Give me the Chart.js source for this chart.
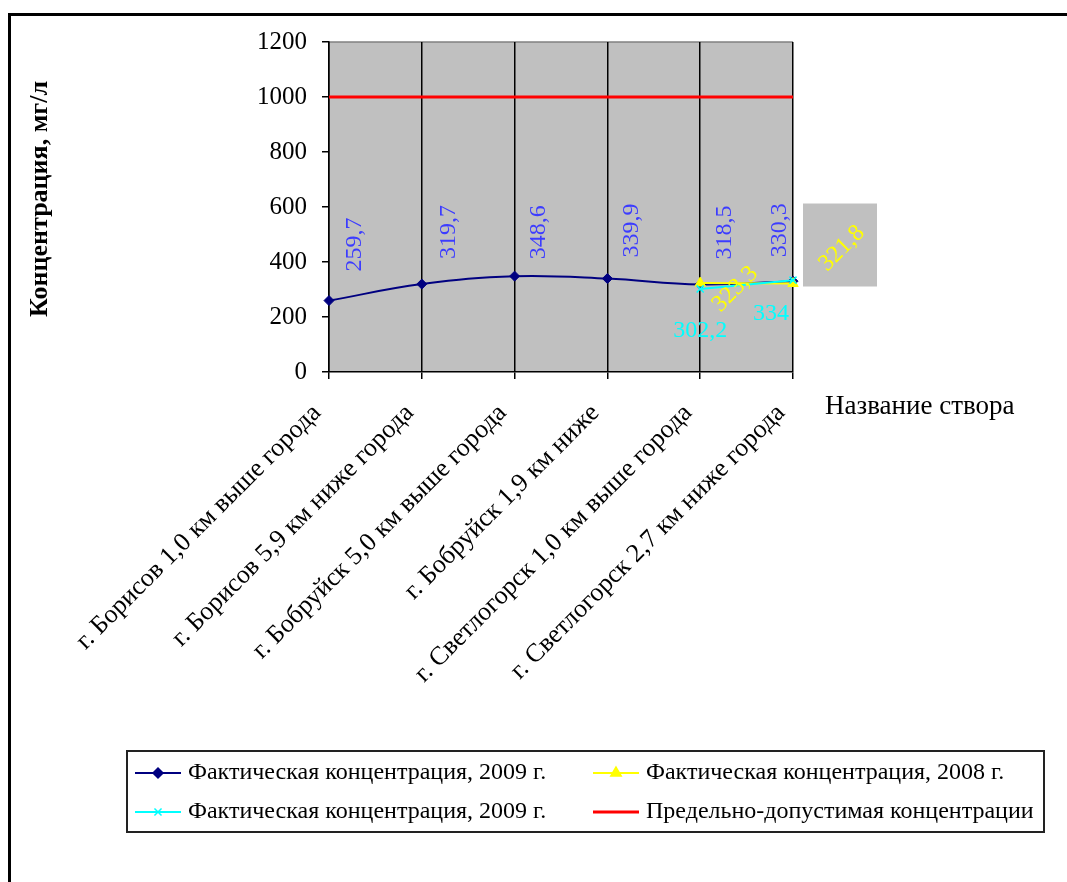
<!DOCTYPE html>
<html>
<head>
<meta charset="utf-8">
<script src="https://cdn.jsdelivr.net/npm/chart.js@4.4.1/dist/chart.umd.min.js"></script>
<style>
  html, body { margin: 0; padding: 0; background: #fff; overflow: hidden; width: 1067px; height: 882px; }
  #frame { position: absolute; left: 8px; top: 13px; width: 1200px; height: 1000px; border: 3px solid #000; box-sizing: border-box; }
  #c { position: absolute; left: 0; top: 0; }
</style>
</head>
<body>
<div id="frame"></div>
<canvas id="c" width="1067" height="882"></canvas>
<script>
// Monitoring sections along the river
const categories = [
  'г. Борисов 1,0 км выше города',
  'г. Борисов 5,9 км ниже города',
  'г. Бобруйск 5,0 км выше города',
  'г. Бобруйск 1,9 км ниже',
  'г. Светлогорск 1,0 км выше города',
  'г. Светлогорск 2,7 км ниже города'
];

// Concentrations, mg/l
const fact2009 = [259.7, 319.7, 348.6, 339.9, 318.5, 330.3];
const fact2008 = [null, null, null, null, 323.3, 321.8];
const fact2009b = [null, null, null, null, 302.2, 334];
const limitValue = [1000, 1000, 1000, 1000, 1000, 1000];

const yTicks = [0, 200, 400, 600, 800, 1000, 1200];

const seriesNames = [
  'Фактическая концентрация, 2009 г.',
  'Фактическая концентрация, 2008 г.',
  'Фактическая концентрация, 2009 г.',
  'Предельно-допустимая концентрации'
];
const yTitle = 'Концентрация, мг/л';
const xTitle = 'Название створа';

const SERIF = "'Liberation Serif', 'Times New Roman', serif";
Chart.defaults.font.family = SERIF;
Chart.defaults.color = '#000';

// Value-label placement (pixel shift of the label centre from its point)
const labelPlacement = {
  0: { color: '#3c3cff', rot: -90, shift: [[26, -56], [27, -52], [24, -44], [24, -48], [25, -52], [-13, -51]] },
  1: { color: '#ffff00', rot: -45, shift: [null, null, null, null, [35, 6], [49, -35]], boxed: [false, false, false, false, false, true] },
  2: { color: '#00ffff', rot: 0, shift: [null, null, null, null, [0, 42], [-22, 34]] }
};

const fmt = v => String(v).replace('.', ',');

const plotBackground = {
  id: 'plotBackground',
  beforeDraw(chart) {
    const { ctx, chartArea: a } = chart;
    ctx.save();
    ctx.fillStyle = '#c0c0c0';
    ctx.fillRect(a.left, a.top, a.right - a.left, a.bottom - a.top);
    ctx.strokeStyle = '#808080';
    ctx.lineWidth = 1.5;
    ctx.beginPath();
    ctx.moveTo(a.left, a.top);
    ctx.lineTo(a.right, a.top);
    ctx.stroke();
    ctx.restore();
  }
};

const valueLabels = {
  id: 'valueLabels',
  afterDatasetsDraw(chart) {
    const { ctx } = chart;
    ctx.save();
    ctx.font = '24px ' + SERIF;
    ctx.textAlign = 'center';
    ctx.textBaseline = 'middle';
    Object.keys(labelPlacement).forEach(key => {
      const di = +key;
      const cfg = labelPlacement[di];
      const meta = chart.getDatasetMeta(di);
      const data = chart.data.datasets[di].data;
      meta.data.forEach((pt, i) => {
        const v = data[i];
        const s = cfg.shift[i];
        if (v == null || !s) return;
        const cx = pt.x + s[0];
        const cy = pt.y + s[1];
        if (cfg.boxed && cfg.boxed[i]) {
          ctx.fillStyle = '#c0c0c0';
          ctx.fillRect(cx - 39, cy - 45, 74, 83);
        }
        ctx.save();
        ctx.translate(cx, cy);
        ctx.rotate(cfg.rot * Math.PI / 180);
        ctx.fillStyle = cfg.color;
        ctx.fillText(fmt(v), 0, 0);
        ctx.restore();
      });
    });
    ctx.restore();
  }
};

const titlesAndLegend = {
  id: 'titlesAndLegend',
  afterDraw(chart) {
    const { ctx } = chart;
    const ds = chart.data.datasets;
    ctx.save();
    // axis titles
    ctx.fillStyle = '#000';
    ctx.font = 'bold 26px ' + SERIF;
    ctx.textAlign = 'center';
    ctx.textBaseline = 'middle';
    ctx.save();
    ctx.translate(40, 199);
    ctx.rotate(-Math.PI / 2);
    ctx.fillText(yTitle, 0, 0);
    ctx.restore();
    ctx.font = '27px ' + SERIF;
    ctx.textAlign = 'left';
    ctx.fillText(xTitle, 825, 407);

    // legend frame
    ctx.strokeStyle = '#222';
    ctx.lineWidth = 2;
    ctx.strokeRect(127, 751, 917, 81);

    const items = [
      { di: 0, x: 135, y: 773 },
      { di: 2, x: 135, y: 812 },
      { di: 1, x: 593, y: 773 },
      { di: 3, x: 593, y: 812 }
    ];
    items.forEach(it => {
      const d = ds[it.di];
      ctx.strokeStyle = d.borderColor;
      ctx.lineWidth = d.borderWidth;
      ctx.beginPath();
      ctx.moveTo(it.x, it.y);
      ctx.lineTo(it.x + 46, it.y);
      ctx.stroke();
      if (d.pointRadius > 0) {
        ctx.fillStyle = d.backgroundColor;
        ctx.lineWidth = 1.5;
        Chart.helpers.drawPoint(ctx, { pointStyle: d.pointStyle, radius: d.pointRadius, rotation: 0, borderWidth: 1.5 }, it.x + 23, it.y);
      }
      ctx.fillStyle = '#000';
      ctx.font = '24px ' + SERIF;
      ctx.textAlign = 'left';
      ctx.textBaseline = 'middle';
      ctx.fillText(d.label, it.x + 53, it.y);
    });
    ctx.restore();
  }
};

new Chart(document.getElementById('c'), {
  type: 'line',
  data: {
    labels: categories,
    datasets: [
      { label: seriesNames[0], data: fact2009, borderColor: '#000080', backgroundColor: '#000080',
        pointStyle: 'rectRot', pointRadius: 5, pointBorderWidth: 1, borderWidth: 2, tension: 0.4, order: 4 },
      { label: seriesNames[1], data: fact2008, borderColor: '#ffff00', backgroundColor: '#ffff00',
        pointStyle: 'triangle', pointRadius: 6, pointBorderWidth: 1, borderWidth: 2, order: 3 },
      { label: seriesNames[2], data: fact2009b, borderColor: '#00ffff', backgroundColor: '#00ffff',
        pointStyle: 'crossRot', pointRadius: 5, pointBorderWidth: 1.5, borderWidth: 2, order: 2 },
      { label: seriesNames[3], data: limitValue, borderColor: '#ff0000', backgroundColor: '#ff0000',
        pointRadius: 0, borderWidth: 3, order: 1 }
    ]
  },
  options: {
    responsive: false,
    animation: false,
    events: [],
    layout: { padding: { top: 42, right: 274, left: 0, bottom: 0 } },
    plugins: { legend: { display: false }, tooltip: { enabled: false } },
    scales: {
      x: {
        offset: false,
        grid: { color: '#000', lineWidth: 1.5, tickLength: 7, drawOnChartArea: true },
        border: { color: '#000', width: 1.5 },
        ticks: { autoSkip: false, minRotation: 45, maxRotation: 45, padding: 19, labelOffset: -12,
                 color: '#000', font: { size: 26 } },
        afterFit(s) { s.height = 510; }
      },
      y: {
        min: 0, max: 1200,
        afterBuildTicks(s) { s.ticks = yTicks.map(v => ({ value: v })); },
        grid: { drawOnChartArea: false, color: '#000', lineWidth: 1.5, tickLength: 7 },
        border: { color: '#000', width: 1.5 },
        ticks: { padding: 15, color: '#000', font: { size: 25 }, callback: v => String(v) },
        afterFit(s) { s.width = 329; }
      }
    }
  },
  plugins: [plotBackground, valueLabels, titlesAndLegend]
});
</script>
</body>
</html>
